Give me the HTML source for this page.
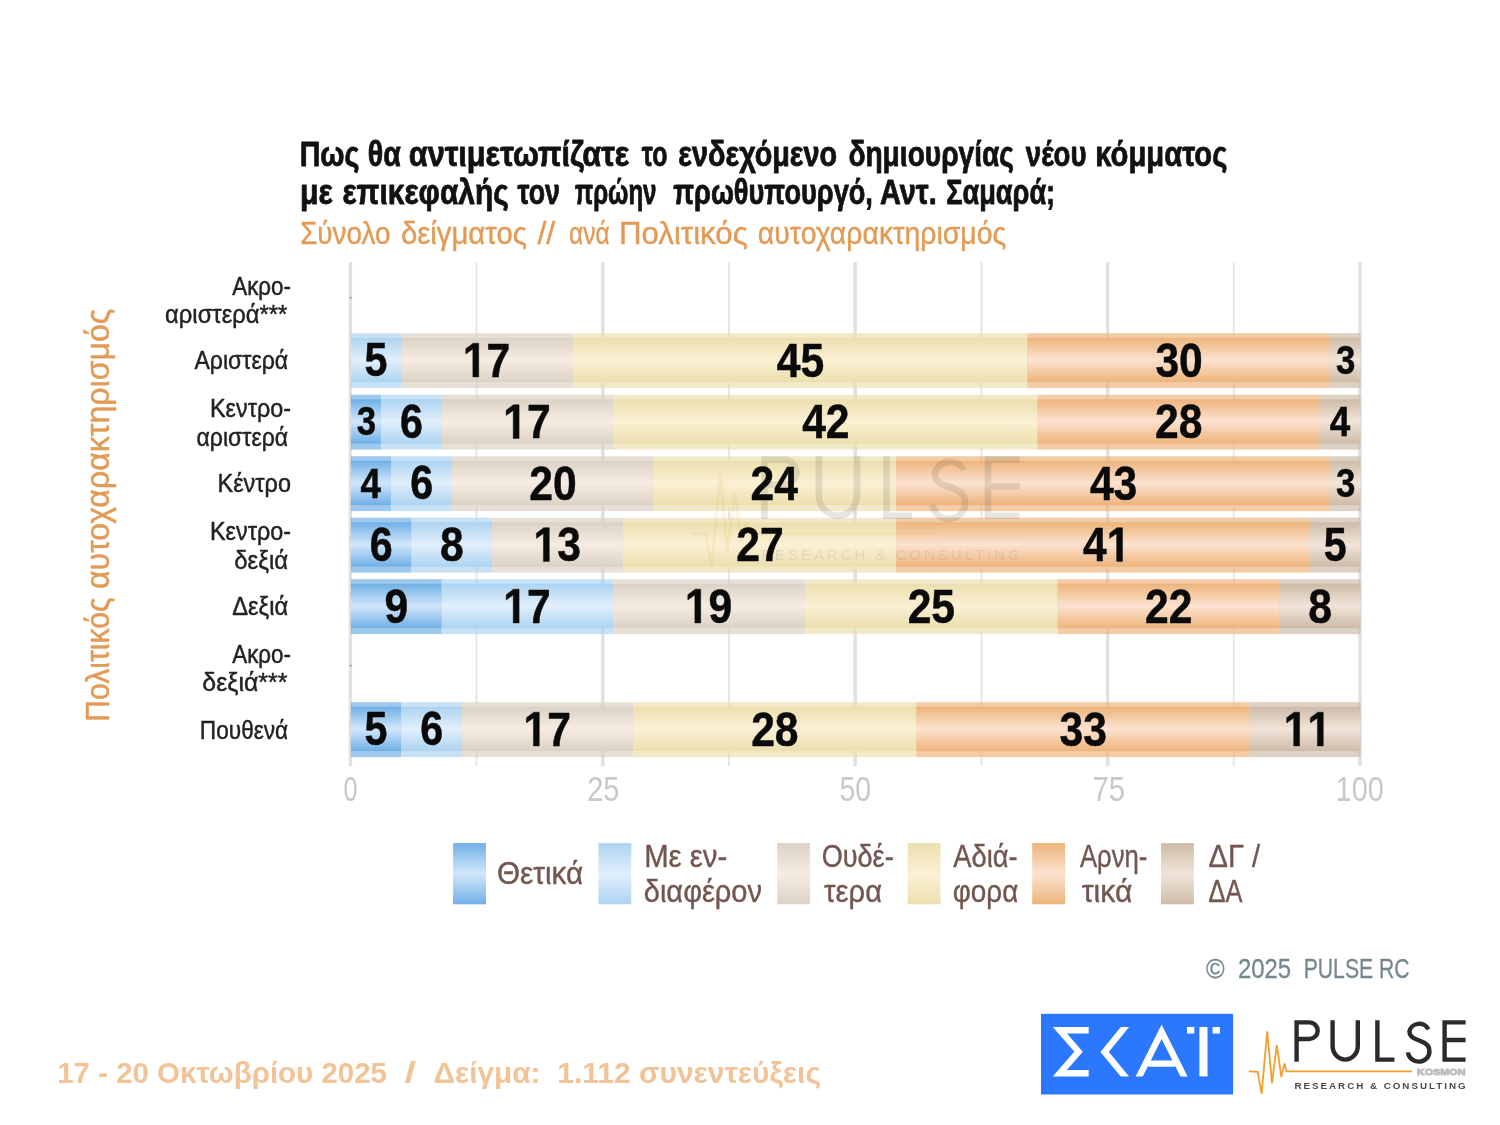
<!DOCTYPE html>
<html><head><meta charset="utf-8"><title>chart</title>
<style>
html,body{margin:0;padding:0;background:#fff;}
body{width:1500px;height:1125px;overflow:hidden;}
svg{display:block;font-family:"Liberation Sans",sans-serif;will-change:transform;filter:blur(0.45px);}
</style></head><body>
<svg width="1500" height="1125" viewBox="0 0 1500 1125">
<rect width="1500" height="1125" fill="#ffffff"/>
<defs>
<linearGradient id="g_pos" x1="0" y1="0" x2="0" y2="1"><stop offset="0" stop-color="#70b0e6"/><stop offset="0.5" stop-color="#d2e6fb"/><stop offset="1" stop-color="#70b0e6"/></linearGradient>
<linearGradient id="g_int" x1="0" y1="0" x2="0" y2="1"><stop offset="0" stop-color="#acd3f1"/><stop offset="0.5" stop-color="#e2effc"/><stop offset="1" stop-color="#acd3f1"/></linearGradient>
<linearGradient id="g_neu" x1="0" y1="0" x2="0" y2="1"><stop offset="0" stop-color="#dbd1c4"/><stop offset="0.5" stop-color="#f6ece2"/><stop offset="1" stop-color="#dbd1c4"/></linearGradient>
<linearGradient id="g_ind" x1="0" y1="0" x2="0" y2="1"><stop offset="0" stop-color="#ecdfae"/><stop offset="0.5" stop-color="#fbf0d5"/><stop offset="1" stop-color="#ecdfae"/></linearGradient>
<linearGradient id="g_neg" x1="0" y1="0" x2="0" y2="1"><stop offset="0" stop-color="#edb47b"/><stop offset="0.5" stop-color="#fce2d0"/><stop offset="1" stop-color="#edb47b"/></linearGradient>
<linearGradient id="g_dk" x1="0" y1="0" x2="0" y2="1"><stop offset="0" stop-color="#cdbba8"/><stop offset="0.5" stop-color="#f1e4d8"/><stop offset="1" stop-color="#cdbba8"/></linearGradient>
</defs>
<rect x="348.70" y="262.0" width="3.4" height="504.0" fill="#e0e0e0"/>
<rect x="475.60" y="262.0" width="2.0" height="504.0" fill="#e6e6e6"/>
<rect x="601.10" y="262.0" width="3.4" height="504.0" fill="#e0e0e0"/>
<rect x="728.00" y="262.0" width="2.0" height="504.0" fill="#e6e6e6"/>
<rect x="853.50" y="262.0" width="3.4" height="504.0" fill="#e0e0e0"/>
<rect x="980.40" y="262.0" width="2.0" height="504.0" fill="#e6e6e6"/>
<rect x="1105.90" y="262.0" width="3.4" height="504.0" fill="#e0e0e0"/>
<rect x="1232.80" y="262.0" width="2.0" height="504.0" fill="#e6e6e6"/>
<rect x="1358.30" y="262.0" width="3.4" height="504.0" fill="#e0e0e0"/>
<rect x="350.90" y="333.20" width="50.48" height="54.9" fill="#acd3f1" fill-opacity="0.68"/>
<rect x="350.90" y="337.80" width="50.48" height="44.30" fill="url(#g_int)"/>
<rect x="401.38" y="333.20" width="171.63" height="54.9" fill="#dbd1c4" fill-opacity="0.68"/>
<rect x="401.38" y="337.80" width="171.63" height="44.30" fill="url(#g_neu)"/>
<rect x="573.01" y="333.20" width="454.32" height="54.9" fill="#ecdfae" fill-opacity="0.68"/>
<rect x="573.01" y="337.80" width="454.32" height="44.30" fill="url(#g_ind)"/>
<rect x="1027.33" y="333.20" width="302.88" height="54.9" fill="#edb47b" fill-opacity="0.68"/>
<rect x="1027.33" y="337.80" width="302.88" height="44.30" fill="url(#g_neg)"/>
<rect x="1330.21" y="333.20" width="30.29" height="54.9" fill="#cdbba8" fill-opacity="0.68"/>
<rect x="1330.21" y="337.80" width="30.29" height="44.30" fill="url(#g_dk)"/>
<rect x="350.90" y="394.70" width="30.29" height="54.9" fill="#70b0e6" fill-opacity="0.68"/>
<rect x="350.90" y="399.30" width="30.29" height="44.30" fill="url(#g_pos)"/>
<rect x="381.19" y="394.70" width="60.58" height="54.9" fill="#acd3f1" fill-opacity="0.68"/>
<rect x="381.19" y="399.30" width="60.58" height="44.30" fill="url(#g_int)"/>
<rect x="441.76" y="394.70" width="171.63" height="54.9" fill="#dbd1c4" fill-opacity="0.68"/>
<rect x="441.76" y="399.30" width="171.63" height="44.30" fill="url(#g_neu)"/>
<rect x="613.40" y="394.70" width="424.03" height="54.9" fill="#ecdfae" fill-opacity="0.68"/>
<rect x="613.40" y="399.30" width="424.03" height="44.30" fill="url(#g_ind)"/>
<rect x="1037.43" y="394.70" width="282.69" height="54.9" fill="#edb47b" fill-opacity="0.68"/>
<rect x="1037.43" y="399.30" width="282.69" height="44.30" fill="url(#g_neg)"/>
<rect x="1320.12" y="394.70" width="40.38" height="54.9" fill="#cdbba8" fill-opacity="0.68"/>
<rect x="1320.12" y="399.30" width="40.38" height="44.30" fill="url(#g_dk)"/>
<rect x="350.90" y="456.20" width="40.38" height="54.9" fill="#70b0e6" fill-opacity="0.68"/>
<rect x="350.90" y="460.80" width="40.38" height="44.30" fill="url(#g_pos)"/>
<rect x="391.28" y="456.20" width="60.58" height="54.9" fill="#acd3f1" fill-opacity="0.68"/>
<rect x="391.28" y="460.80" width="60.58" height="44.30" fill="url(#g_int)"/>
<rect x="451.86" y="456.20" width="201.92" height="54.9" fill="#dbd1c4" fill-opacity="0.68"/>
<rect x="451.86" y="460.80" width="201.92" height="44.30" fill="url(#g_neu)"/>
<rect x="653.78" y="456.20" width="242.30" height="54.9" fill="#ecdfae" fill-opacity="0.68"/>
<rect x="653.78" y="460.80" width="242.30" height="44.30" fill="url(#g_ind)"/>
<rect x="896.08" y="456.20" width="434.13" height="54.9" fill="#edb47b" fill-opacity="0.68"/>
<rect x="896.08" y="460.80" width="434.13" height="44.30" fill="url(#g_neg)"/>
<rect x="1330.21" y="456.20" width="30.29" height="54.9" fill="#cdbba8" fill-opacity="0.68"/>
<rect x="1330.21" y="460.80" width="30.29" height="44.30" fill="url(#g_dk)"/>
<rect x="350.90" y="517.70" width="60.58" height="54.9" fill="#70b0e6" fill-opacity="0.68"/>
<rect x="350.90" y="522.30" width="60.58" height="44.30" fill="url(#g_pos)"/>
<rect x="411.48" y="517.70" width="80.77" height="54.9" fill="#acd3f1" fill-opacity="0.68"/>
<rect x="411.48" y="522.30" width="80.77" height="44.30" fill="url(#g_int)"/>
<rect x="492.24" y="517.70" width="131.25" height="54.9" fill="#dbd1c4" fill-opacity="0.68"/>
<rect x="492.24" y="522.30" width="131.25" height="44.30" fill="url(#g_neu)"/>
<rect x="623.49" y="517.70" width="272.59" height="54.9" fill="#ecdfae" fill-opacity="0.68"/>
<rect x="623.49" y="522.30" width="272.59" height="44.30" fill="url(#g_ind)"/>
<rect x="896.08" y="517.70" width="413.94" height="54.9" fill="#edb47b" fill-opacity="0.68"/>
<rect x="896.08" y="522.30" width="413.94" height="44.30" fill="url(#g_neg)"/>
<rect x="1310.02" y="517.70" width="50.48" height="54.9" fill="#cdbba8" fill-opacity="0.68"/>
<rect x="1310.02" y="522.30" width="50.48" height="44.30" fill="url(#g_dk)"/>
<rect x="350.90" y="579.20" width="90.86" height="54.9" fill="#70b0e6" fill-opacity="0.68"/>
<rect x="350.90" y="583.80" width="90.86" height="44.30" fill="url(#g_pos)"/>
<rect x="441.76" y="579.20" width="171.63" height="54.9" fill="#acd3f1" fill-opacity="0.68"/>
<rect x="441.76" y="583.80" width="171.63" height="44.30" fill="url(#g_int)"/>
<rect x="613.40" y="579.20" width="191.82" height="54.9" fill="#dbd1c4" fill-opacity="0.68"/>
<rect x="613.40" y="583.80" width="191.82" height="44.30" fill="url(#g_neu)"/>
<rect x="805.22" y="579.20" width="252.40" height="54.9" fill="#ecdfae" fill-opacity="0.68"/>
<rect x="805.22" y="583.80" width="252.40" height="44.30" fill="url(#g_ind)"/>
<rect x="1057.62" y="579.20" width="222.11" height="54.9" fill="#edb47b" fill-opacity="0.68"/>
<rect x="1057.62" y="583.80" width="222.11" height="44.30" fill="url(#g_neg)"/>
<rect x="1279.73" y="579.20" width="80.77" height="54.9" fill="#cdbba8" fill-opacity="0.68"/>
<rect x="1279.73" y="583.80" width="80.77" height="44.30" fill="url(#g_dk)"/>
<rect x="350.90" y="702.20" width="50.48" height="54.9" fill="#70b0e6" fill-opacity="0.68"/>
<rect x="350.90" y="706.80" width="50.48" height="44.30" fill="url(#g_pos)"/>
<rect x="401.38" y="702.20" width="60.58" height="54.9" fill="#acd3f1" fill-opacity="0.68"/>
<rect x="401.38" y="706.80" width="60.58" height="44.30" fill="url(#g_int)"/>
<rect x="461.96" y="702.20" width="171.63" height="54.9" fill="#dbd1c4" fill-opacity="0.68"/>
<rect x="461.96" y="706.80" width="171.63" height="44.30" fill="url(#g_neu)"/>
<rect x="633.59" y="702.20" width="282.69" height="54.9" fill="#ecdfae" fill-opacity="0.68"/>
<rect x="633.59" y="706.80" width="282.69" height="44.30" fill="url(#g_ind)"/>
<rect x="916.28" y="702.20" width="333.17" height="54.9" fill="#edb47b" fill-opacity="0.68"/>
<rect x="916.28" y="706.80" width="333.17" height="44.30" fill="url(#g_neg)"/>
<rect x="1249.44" y="702.20" width="111.06" height="54.9" fill="#cdbba8" fill-opacity="0.68"/>
<rect x="1249.44" y="706.80" width="111.06" height="44.30" fill="url(#g_dk)"/>
<rect x="453.1" y="843.1" width="32.9" height="61.2" fill="url(#g_pos)"/>
<rect x="598.4" y="843.1" width="32.9" height="61.2" fill="url(#g_int)"/>
<rect x="777.2" y="843.1" width="32.9" height="61.2" fill="url(#g_neu)"/>
<rect x="907.6" y="843.1" width="32.9" height="61.2" fill="url(#g_ind)"/>
<rect x="1032.2" y="843.1" width="32.9" height="61.2" fill="url(#g_neg)"/>
<rect x="1161.0" y="843.1" width="32.9" height="61.2" fill="url(#g_dk)"/>
<!-- empty-row ticks -->
<rect x="349.9" y="297.1" width="1.4" height="1.2" fill="#555"/>
<rect x="349.9" y="665.0" width="1.4" height="1.2" fill="#555"/>
<!-- SKAI logo -->
<g id="skai">
<rect x="1041" y="1013.8" width="192.1" height="80.7" fill="#2b78ff"/>
<clipPath id="skc"><rect x="1041" y="1020" width="192" height="56.5"/></clipPath>
<clipPath id="skc2"><rect x="1041" y="1027" width="192" height="49.5"/></clipPath>
<g fill="none" stroke="#fff" stroke-width="6.4" stroke-linejoin="miter" stroke-miterlimit="6">
<path d="M1088.7 1030.2 H1059.8 L1078.6 1051.7 L1059.8 1073.2 H1088.7"/>
<path d="M1129.6 1021.3 L1104.6 1051.9 L1129.6 1082.2" clip-path="url(#skc2)"/>
<path d="M1137 1080.9 L1161.6 1031.7 L1186.2 1080.9 M1148.5 1063.6 H1174.8" clip-path="url(#skc)"/>
</g>
<rect x="1199.4" y="1027" width="8.1" height="49.4" fill="#fff"/>
<rect x="1187" y="1027" width="7.3" height="6.6" fill="#fff"/>
<rect x="1212.6" y="1027" width="7.3" height="6.6" fill="#fff"/>
</g>
<!-- PULSE logo -->
<defs>
<g id="pulselogo">
<path d="M1248.8 1071.4 L1257.6 1071.9 L1261.6 1093.8 L1267.2 1031.4 L1272 1083.4 L1276.8 1045 L1281.3 1077 L1284.5 1063.4 L1286.4 1071.4 H1412" fill="none" stroke="#f0a030" stroke-width="1.8" stroke-linejoin="miter"/>
<g fill="none" stroke="#2b2b2b" stroke-width="4.4">
<path d="M1296.6 1061.8 V1022.4 H1309.4 A8.3 8.3 0 0 1 1309.4 1039 H1296.6"/>
<path d="M1332.6 1020.2 V1046 A12.6 13.6 0 0 0 1357.8 1046 V1020.2"/>
<path d="M1377.4 1020.2 V1059.6 H1394.4"/>
<path d="M1428.4 1029.4 A10 9.4 0 0 0 1409.4 1031.6 C1409.4 1038.6 1417 1039.6 1420 1040.8 C1426 1042.8 1429.4 1045.6 1429.4 1050.6 A10.6 10 0 0 1 1408 1052.4"/>
<path d="M1465.6 1022.4 H1444.6 V1059.6 H1465.6 M1444.6 1040 H1465.6"/>
</g>
</g>
</defs>
<use href="#pulselogo"/>
<text x="1416.8" y="1075.4" font-size="9.3" font-weight="bold" fill="#bdbdbd" stroke="#bdbdbd" stroke-width="0.9" textLength="48.8" lengthAdjust="spacingAndGlyphs">KOSMON</text>
<text x="1294.4" y="1089" font-size="9.8" font-weight="bold" fill="#4a4a4a" textLength="171.2" lengthAdjust="spacing">RESEARCH &amp; CONSULTING</text>
<use href="#pulselogo" transform="translate(761.2 456.3) scale(1.51) translate(-1294.4 -1020.2)" opacity="0.115"/>
<g transform="translate(761.2 456.3) scale(1.51) translate(-1294.4 -1020.2)" opacity="0.1">
<text x="1416.8" y="1075.4" font-size="9.3" font-weight="bold" fill="#bdbdbd" textLength="48.8" lengthAdjust="spacingAndGlyphs">KOSMON</text>
<text x="1294.4" y="1089" font-size="9.8" fill="#4a4a4a" textLength="171.2" lengthAdjust="spacing">RESEARCH &amp; CONSULTING</text>
</g>

<text xml:space="preserve" style="white-space:pre" transform="translate(299.63,166.30) scale(0.8365,1)" font-size="34.3" fill="#111" font-weight="bold" stroke="#111" stroke-width="0.8" stroke-linejoin="round">Πως</text>
<text xml:space="preserve" style="white-space:pre" transform="translate(367.87,166.30) scale(0.8329,1)" font-size="34.3" fill="#111" font-weight="bold" stroke="#111" stroke-width="0.8" stroke-linejoin="round">θα</text>
<text xml:space="preserve" style="white-space:pre" transform="translate(408.81,166.30) scale(0.8935,1)" font-size="34.3" fill="#111" font-weight="bold" stroke="#111" stroke-width="0.8" stroke-linejoin="round">αντιμετωπίζατε</text>
<text xml:space="preserve" style="white-space:pre" transform="translate(641.70,166.30) scale(0.7278,1)" font-size="34.3" fill="#111" font-weight="bold" stroke="#111" stroke-width="0.8" stroke-linejoin="round">το</text>
<text xml:space="preserve" style="white-space:pre" transform="translate(678.36,166.30) scale(0.8391,1)" font-size="34.3" fill="#111" font-weight="bold" stroke="#111" stroke-width="0.8" stroke-linejoin="round">ενδεχόμενο</text>
<text xml:space="preserve" style="white-space:pre" transform="translate(848.38,166.30) scale(0.8202,1)" font-size="34.3" fill="#111" font-weight="bold" stroke="#111" stroke-width="0.8" stroke-linejoin="round">δημιουργίας</text>
<text xml:space="preserve" style="white-space:pre" transform="translate(1025.80,166.30) scale(0.8054,1)" font-size="34.3" fill="#111" font-weight="bold" stroke="#111" stroke-width="0.8" stroke-linejoin="round">νέου</text>
<text xml:space="preserve" style="white-space:pre" transform="translate(1095.30,166.30) scale(0.8517,1)" font-size="34.3" fill="#111" font-weight="bold" stroke="#111" stroke-width="0.8" stroke-linejoin="round">κόμματος</text>
<text xml:space="preserve" style="white-space:pre" transform="translate(299.94,203.70) scale(0.8804,1)" font-size="34.3" fill="#111" font-weight="bold" stroke="#111" stroke-width="0.8" stroke-linejoin="round">με</text>
<text xml:space="preserve" style="white-space:pre" transform="translate(342.43,203.70) scale(0.8709,1)" font-size="34.3" fill="#111" font-weight="bold" stroke="#111" stroke-width="0.8" stroke-linejoin="round">επικεφαλής</text>
<text xml:space="preserve" style="white-space:pre" transform="translate(517.50,203.70) scale(0.7823,1)" font-size="34.3" fill="#111" font-weight="bold" stroke="#111" stroke-width="0.8" stroke-linejoin="round">τον</text>
<text xml:space="preserve" style="white-space:pre" transform="translate(574.70,203.70) scale(0.7028,1)" font-size="34.3" fill="#111" font-weight="bold" stroke="#111" stroke-width="0.8" stroke-linejoin="round">πρώην</text>
<text xml:space="preserve" style="white-space:pre" transform="translate(673.30,203.70) scale(0.7923,1)" font-size="34.3" fill="#111" font-weight="bold" stroke="#111" stroke-width="0.8" stroke-linejoin="round">πρωθυπουργό,</text>
<text xml:space="preserve" style="white-space:pre" transform="translate(880.00,203.70) scale(0.8425,1)" font-size="34.3" fill="#111" font-weight="bold" stroke="#111" stroke-width="0.8" stroke-linejoin="round">Αντ.</text>
<text xml:space="preserve" style="white-space:pre" transform="translate(946.21,203.70) scale(0.7931,1)" font-size="34.3" fill="#111" font-weight="bold" stroke="#111" stroke-width="0.8" stroke-linejoin="round">Σαμαρά;</text>
<text xml:space="preserve" style="white-space:pre" transform="translate(300.13,244.30) scale(0.8707,1)" font-size="32.0" fill="#e39a55" stroke="#e39a55" stroke-width="0.4" stroke-linejoin="round">Σύνολο</text>
<text xml:space="preserve" style="white-space:pre" transform="translate(400.88,244.30) scale(0.9169,1)" font-size="32.0" fill="#e39a55" stroke="#e39a55" stroke-width="0.4" stroke-linejoin="round">δείγματος</text>
<text xml:space="preserve" style="white-space:pre" transform="translate(537.40,244.30) scale(1.0061,1)" font-size="32.0" fill="#e39a55" stroke="#e39a55" stroke-width="0.4" stroke-linejoin="round">//</text>
<text xml:space="preserve" style="white-space:pre" transform="translate(569.03,244.30) scale(0.7689,1)" font-size="32.0" fill="#e39a55" stroke="#e39a55" stroke-width="0.4" stroke-linejoin="round">ανά</text>
<text xml:space="preserve" style="white-space:pre" transform="translate(618.95,244.30) scale(0.9764,1)" font-size="32.0" fill="#e39a55" stroke="#e39a55" stroke-width="0.4" stroke-linejoin="round">Πολιτικός</text>
<text xml:space="preserve" style="white-space:pre" transform="translate(757.81,244.30) scale(0.8892,1)" font-size="32.0" fill="#e39a55" stroke="#e39a55" stroke-width="0.4" stroke-linejoin="round">αυτοχαρακτηρισμός</text>
<text xml:space="preserve" style="white-space:pre" transform="translate(232.20,294.60) scale(0.8611,1)" font-size="26.0" fill="#222" stroke="#222" stroke-width="0.45" stroke-linejoin="round">Ακρο-</text>
<text xml:space="preserve" style="white-space:pre" transform="translate(165.08,322.80) scale(0.9150,1)" font-size="26.0" fill="#222" stroke="#222" stroke-width="0.45" stroke-linejoin="round">αριστερά***</text>
<text xml:space="preserve" style="white-space:pre" transform="translate(194.40,369.00) scale(0.8882,1)" font-size="26.0" fill="#222" stroke="#222" stroke-width="0.45" stroke-linejoin="round">Αριστερά</text>
<text xml:space="preserve" style="white-space:pre" transform="translate(210.00,416.80) scale(0.8988,1)" font-size="26.0" fill="#222" stroke="#222" stroke-width="0.45" stroke-linejoin="round">Κεντρο-</text>
<text xml:space="preserve" style="white-space:pre" transform="translate(196.41,445.50) scale(0.8886,1)" font-size="26.0" fill="#222" stroke="#222" stroke-width="0.45" stroke-linejoin="round">αριστερά</text>
<text xml:space="preserve" style="white-space:pre" transform="translate(217.49,491.70) scale(0.9026,1)" font-size="26.0" fill="#222" stroke="#222" stroke-width="0.45" stroke-linejoin="round">Κέντρο</text>
<text xml:space="preserve" style="white-space:pre" transform="translate(210.00,540.00) scale(0.8988,1)" font-size="26.0" fill="#222" stroke="#222" stroke-width="0.45" stroke-linejoin="round">Κεντρο-</text>
<text xml:space="preserve" style="white-space:pre" transform="translate(234.18,568.50) scale(0.9238,1)" font-size="26.0" fill="#222" stroke="#222" stroke-width="0.45" stroke-linejoin="round">δεξιά</text>
<text xml:space="preserve" style="white-space:pre" transform="translate(232.20,615.20) scale(0.9124,1)" font-size="26.0" fill="#222" stroke="#222" stroke-width="0.45" stroke-linejoin="round">Δεξιά</text>
<text xml:space="preserve" style="white-space:pre" transform="translate(232.20,662.90) scale(0.8611,1)" font-size="26.0" fill="#222" stroke="#222" stroke-width="0.45" stroke-linejoin="round">Ακρο-</text>
<text xml:space="preserve" style="white-space:pre" transform="translate(202.34,691.20) scale(0.9573,1)" font-size="26.0" fill="#222" stroke="#222" stroke-width="0.45" stroke-linejoin="round">δεξιά***</text>
<text xml:space="preserve" style="white-space:pre" transform="translate(199.86,738.50) scale(0.8703,1)" font-size="26.0" fill="#222" stroke="#222" stroke-width="0.45" stroke-linejoin="round">Πουθενά</text>
<text xml:space="preserve" style="white-space:pre" transform="translate(108.80,721.86) rotate(-90) scale(0.9286,1)" font-size="32.5" fill="#e39a55" stroke="#e39a55" stroke-width="0.4" stroke-linejoin="round">Πολιτικός</text>
<text xml:space="preserve" style="white-space:pre" transform="translate(108.80,588.99) rotate(-90) scale(0.9882,1)" font-size="32.5" fill="#e39a55" stroke="#e39a55" stroke-width="0.4" stroke-linejoin="round">αυτοχαρακτηρισμός</text>
<text xml:space="preserve" style="white-space:pre" transform="translate(343.47,800.50) scale(0.7294,1)" font-size="34.6" fill="#c8c8c8">0</text>
<text xml:space="preserve" style="white-space:pre" transform="translate(587.16,800.50) scale(0.8391,1)" font-size="34.6" fill="#c8c8c8">25</text>
<text xml:space="preserve" style="white-space:pre" transform="translate(839.48,800.50) scale(0.8225,1)" font-size="34.6" fill="#c8c8c8">50</text>
<text xml:space="preserve" style="white-space:pre" transform="translate(1092.45,800.50) scale(0.8473,1)" font-size="34.6" fill="#c8c8c8">75</text>
<text xml:space="preserve" style="white-space:pre" transform="translate(1335.53,800.50) scale(0.8373,1)" font-size="34.6" fill="#c8c8c8">100</text>
<text xml:space="preserve" style="white-space:pre" transform="translate(496.97,884.40) scale(0.9336,1)" font-size="31.8" fill="#72564f" stroke="#72564f" stroke-width="0.4" stroke-linejoin="round">Θετικά</text>
<text xml:space="preserve" style="white-space:pre" transform="translate(644.15,867.10) scale(0.9227,1)" font-size="31.8" fill="#72564f" stroke="#72564f" stroke-width="0.4" stroke-linejoin="round">Με εν-</text>
<text xml:space="preserve" style="white-space:pre" transform="translate(643.79,902.00) scale(0.9122,1)" font-size="31.8" fill="#72564f" stroke="#72564f" stroke-width="0.4" stroke-linejoin="round">διαφέρον</text>
<text xml:space="preserve" style="white-space:pre" transform="translate(821.65,867.10) scale(0.8518,1)" font-size="31.8" fill="#72564f" stroke="#72564f" stroke-width="0.4" stroke-linejoin="round">Ουδέ-</text>
<text xml:space="preserve" style="white-space:pre" transform="translate(824.10,902.00) scale(0.9169,1)" font-size="31.8" fill="#72564f" stroke="#72564f" stroke-width="0.4" stroke-linejoin="round">τερα</text>
<text xml:space="preserve" style="white-space:pre" transform="translate(953.20,867.10) scale(0.8607,1)" font-size="31.8" fill="#72564f" stroke="#72564f" stroke-width="0.4" stroke-linejoin="round">Αδιά-</text>
<text xml:space="preserve" style="white-space:pre" transform="translate(952.82,902.00) scale(0.8761,1)" font-size="31.8" fill="#72564f" stroke="#72564f" stroke-width="0.4" stroke-linejoin="round">φορα</text>
<text xml:space="preserve" style="white-space:pre" transform="translate(1079.90,867.10) scale(0.8084,1)" font-size="31.8" fill="#72564f" stroke="#72564f" stroke-width="0.4" stroke-linejoin="round">Αρνη-</text>
<text xml:space="preserve" style="white-space:pre" transform="translate(1081.70,902.00) scale(0.9485,1)" font-size="31.8" fill="#72564f" stroke="#72564f" stroke-width="0.4" stroke-linejoin="round">τικά</text>
<text xml:space="preserve" style="white-space:pre" transform="translate(1208.60,867.10) scale(0.9136,1)" font-size="31.8" fill="#72564f" stroke="#72564f" stroke-width="0.4" stroke-linejoin="round">ΔΓ /</text>
<text xml:space="preserve" style="white-space:pre" transform="translate(1208.60,902.00) scale(0.8002,1)" font-size="31.8" fill="#72564f" stroke="#72564f" stroke-width="0.4" stroke-linejoin="round">ΔΑ</text>
<text xml:space="preserve" style="white-space:pre" transform="translate(1206.00,978.00) scale(0.9200,1)" font-size="27.5" fill="#74878f" stroke="#74878f" stroke-width="0.3" stroke-linejoin="round">©</text>
<text xml:space="preserve" style="white-space:pre" transform="translate(1237.96,977.50) scale(0.8400,1)" font-size="28.5" fill="#74878f" stroke="#74878f" stroke-width="0.3" stroke-linejoin="round">2025</text>
<text xml:space="preserve" style="white-space:pre" transform="translate(1303.71,977.50) scale(0.7431,1)" font-size="28.5" fill="#74878f" stroke="#74878f" stroke-width="0.3" stroke-linejoin="round">PULSE RC</text>
<text xml:space="preserve" style="white-space:pre" transform="translate(57.17,1083.40) scale(1.0310,1)" font-size="28.6" fill="#f2c396" font-weight="bold">17 - 20 Οκτωβρίου 2025</text>
<text xml:space="preserve" style="white-space:pre" transform="translate(404.40,1083.40) scale(1.4500,1)" font-size="28.6" fill="#f2c396" font-weight="bold">/</text>
<text xml:space="preserve" style="white-space:pre" transform="translate(433.56,1083.40) scale(1.0430,1)" font-size="28.6" fill="#f2c396" font-weight="bold">Δείγμα:</text>
<text xml:space="preserve" style="white-space:pre" transform="translate(557.35,1083.40) scale(1.0480,1)" font-size="28.6" fill="#f2c396" font-weight="bold">1.112 συνεντεύξεις</text>
<g transform="translate(364.62,376.32) scale(0.87,1)" font-size="47.3" font-weight="bold" fill="#0a0a0a" stroke="#0a0a0a" stroke-width="0.5" stroke-linejoin="round"><text x="0.00" y="0">5</text></g>
<g transform="translate(462.91,376.91) scale(0.87,1)" font-size="49.0" font-weight="bold" fill="#0a0a0a" stroke="#0a0a0a" stroke-width="0.5" stroke-linejoin="round"><polygon points="11.44,0.00 11.44,-27.99 3.35,-22.94 3.35,-28.23 11.80,-33.71 18.16,-33.71 18.16,0.00"/><text x="27.25" y="0">7</text></g>
<g transform="translate(776.70,376.91) scale(0.87,1)" font-size="49.0" font-weight="bold" fill="#0a0a0a" stroke="#0a0a0a" stroke-width="0.5" stroke-linejoin="round"><text x="0.00" y="0">4</text><text x="27.25" y="0">5</text></g>
<g transform="translate(1155.41,376.91) scale(0.87,1)" font-size="49.0" font-weight="bold" fill="#0a0a0a" stroke="#0a0a0a" stroke-width="0.5" stroke-linejoin="round"><text x="0.00" y="0">3</text><text x="27.25" y="0">0</text></g>
<g transform="translate(1335.96,373.81) scale(0.87,1)" font-size="40.0" font-weight="bold" fill="#0a0a0a" stroke="#0a0a0a" stroke-width="0.5" stroke-linejoin="round"><text x="0.00" y="0">3</text></g>
<g transform="translate(356.65,435.31) scale(0.87,1)" font-size="40.0" font-weight="bold" fill="#0a0a0a" stroke="#0a0a0a" stroke-width="0.5" stroke-linejoin="round"><text x="0.00" y="0">3</text></g>
<g transform="translate(400.06,437.82) scale(0.87,1)" font-size="47.3" font-weight="bold" fill="#0a0a0a" stroke="#0a0a0a" stroke-width="0.5" stroke-linejoin="round"><text x="0.00" y="0">6</text></g>
<g transform="translate(503.29,438.41) scale(0.87,1)" font-size="49.0" font-weight="bold" fill="#0a0a0a" stroke="#0a0a0a" stroke-width="0.5" stroke-linejoin="round"><polygon points="11.44,0.00 11.44,-27.99 3.35,-22.94 3.35,-28.23 11.80,-33.71 18.16,-33.71 18.16,0.00"/><text x="27.25" y="0">7</text></g>
<g transform="translate(802.15,438.41) scale(0.87,1)" font-size="49.0" font-weight="bold" fill="#0a0a0a" stroke="#0a0a0a" stroke-width="0.5" stroke-linejoin="round"><text x="0.00" y="0">4</text><text x="27.25" y="0">2</text></g>
<g transform="translate(1154.98,438.41) scale(0.87,1)" font-size="49.0" font-weight="bold" fill="#0a0a0a" stroke="#0a0a0a" stroke-width="0.5" stroke-linejoin="round"><text x="0.00" y="0">2</text><text x="27.25" y="0">8</text></g>
<g transform="translate(1329.82,436.10) scale(0.87,1)" font-size="42.3" font-weight="bold" fill="#0a0a0a" stroke="#0a0a0a" stroke-width="0.5" stroke-linejoin="round"><text x="0.00" y="0">4</text></g>
<g transform="translate(360.60,497.60) scale(0.87,1)" font-size="42.3" font-weight="bold" fill="#0a0a0a" stroke="#0a0a0a" stroke-width="0.5" stroke-linejoin="round"><text x="0.00" y="0">4</text></g>
<g transform="translate(410.15,499.32) scale(0.87,1)" font-size="47.3" font-weight="bold" fill="#0a0a0a" stroke="#0a0a0a" stroke-width="0.5" stroke-linejoin="round"><text x="0.00" y="0">6</text></g>
<g transform="translate(529.24,499.91) scale(0.87,1)" font-size="49.0" font-weight="bold" fill="#0a0a0a" stroke="#0a0a0a" stroke-width="0.5" stroke-linejoin="round"><text x="0.00" y="0">2</text><text x="27.25" y="0">0</text></g>
<g transform="translate(750.61,499.91) scale(0.87,1)" font-size="49.0" font-weight="bold" fill="#0a0a0a" stroke="#0a0a0a" stroke-width="0.5" stroke-linejoin="round"><text x="0.00" y="0">2</text><text x="27.25" y="0">4</text></g>
<g transform="translate(1089.89,499.91) scale(0.87,1)" font-size="49.0" font-weight="bold" fill="#0a0a0a" stroke="#0a0a0a" stroke-width="0.5" stroke-linejoin="round"><text x="0.00" y="0">4</text><text x="27.25" y="0">3</text></g>
<g transform="translate(1335.96,496.81) scale(0.87,1)" font-size="40.0" font-weight="bold" fill="#0a0a0a" stroke="#0a0a0a" stroke-width="0.5" stroke-linejoin="round"><text x="0.00" y="0">3</text></g>
<g transform="translate(369.77,560.82) scale(0.87,1)" font-size="47.3" font-weight="bold" fill="#0a0a0a" stroke="#0a0a0a" stroke-width="0.5" stroke-linejoin="round"><text x="0.00" y="0">6</text></g>
<g transform="translate(439.92,561.41) scale(0.87,1)" font-size="49.0" font-weight="bold" fill="#0a0a0a" stroke="#0a0a0a" stroke-width="0.5" stroke-linejoin="round"><text x="0.00" y="0">8</text></g>
<g transform="translate(533.47,561.41) scale(0.87,1)" font-size="49.0" font-weight="bold" fill="#0a0a0a" stroke="#0a0a0a" stroke-width="0.5" stroke-linejoin="round"><polygon points="11.44,0.00 11.44,-27.99 3.35,-22.94 3.35,-28.23 11.80,-33.71 18.16,-33.71 18.16,0.00"/><text x="27.25" y="0">3</text></g>
<g transform="translate(736.32,561.41) scale(0.87,1)" font-size="49.0" font-weight="bold" fill="#0a0a0a" stroke="#0a0a0a" stroke-width="0.5" stroke-linejoin="round"><text x="0.00" y="0">2</text><text x="27.25" y="0">7</text></g>
<g transform="translate(1082.98,561.41) scale(0.87,1)" font-size="49.0" font-weight="bold" fill="#0a0a0a" stroke="#0a0a0a" stroke-width="0.5" stroke-linejoin="round"><text x="0.00" y="0">4</text><polygon points="38.69,0.00 38.69,-27.99 30.60,-22.94 30.60,-28.23 39.05,-33.71 45.41,-33.71 45.41,0.00"/></g>
<g transform="translate(1323.74,560.82) scale(0.87,1)" font-size="47.3" font-weight="bold" fill="#0a0a0a" stroke="#0a0a0a" stroke-width="0.5" stroke-linejoin="round"><text x="0.00" y="0">5</text></g>
<g transform="translate(384.61,622.91) scale(0.87,1)" font-size="49.0" font-weight="bold" fill="#0a0a0a" stroke="#0a0a0a" stroke-width="0.5" stroke-linejoin="round"><text x="0.00" y="0">9</text></g>
<g transform="translate(503.29,622.91) scale(0.87,1)" font-size="49.0" font-weight="bold" fill="#0a0a0a" stroke="#0a0a0a" stroke-width="0.5" stroke-linejoin="round"><polygon points="11.44,0.00 11.44,-27.99 3.35,-22.94 3.35,-28.23 11.80,-33.71 18.16,-33.71 18.16,0.00"/><text x="27.25" y="0">7</text></g>
<g transform="translate(684.91,622.91) scale(0.87,1)" font-size="49.0" font-weight="bold" fill="#0a0a0a" stroke="#0a0a0a" stroke-width="0.5" stroke-linejoin="round"><polygon points="11.44,0.00 11.44,-27.99 3.35,-22.94 3.35,-28.23 11.80,-33.71 18.16,-33.71 18.16,0.00"/><text x="27.25" y="0">9</text></g>
<g transform="translate(907.63,622.91) scale(0.87,1)" font-size="49.0" font-weight="bold" fill="#0a0a0a" stroke="#0a0a0a" stroke-width="0.5" stroke-linejoin="round"><text x="0.00" y="0">2</text><text x="27.25" y="0">5</text></g>
<g transform="translate(1145.10,622.91) scale(0.87,1)" font-size="49.0" font-weight="bold" fill="#0a0a0a" stroke="#0a0a0a" stroke-width="0.5" stroke-linejoin="round"><text x="0.00" y="0">2</text><text x="27.25" y="0">2</text></g>
<g transform="translate(1308.18,622.91) scale(0.87,1)" font-size="49.0" font-weight="bold" fill="#0a0a0a" stroke="#0a0a0a" stroke-width="0.5" stroke-linejoin="round"><text x="0.00" y="0">8</text></g>
<g transform="translate(364.62,745.32) scale(0.87,1)" font-size="47.3" font-weight="bold" fill="#0a0a0a" stroke="#0a0a0a" stroke-width="0.5" stroke-linejoin="round"><text x="0.00" y="0">5</text></g>
<g transform="translate(420.25,745.32) scale(0.87,1)" font-size="47.3" font-weight="bold" fill="#0a0a0a" stroke="#0a0a0a" stroke-width="0.5" stroke-linejoin="round"><text x="0.00" y="0">6</text></g>
<g transform="translate(523.48,745.91) scale(0.87,1)" font-size="49.0" font-weight="bold" fill="#0a0a0a" stroke="#0a0a0a" stroke-width="0.5" stroke-linejoin="round"><polygon points="11.44,0.00 11.44,-27.99 3.35,-22.94 3.35,-28.23 11.80,-33.71 18.16,-33.71 18.16,0.00"/><text x="27.25" y="0">7</text></g>
<g transform="translate(751.14,745.91) scale(0.87,1)" font-size="49.0" font-weight="bold" fill="#0a0a0a" stroke="#0a0a0a" stroke-width="0.5" stroke-linejoin="round"><text x="0.00" y="0">2</text><text x="27.25" y="0">8</text></g>
<g transform="translate(1059.50,745.91) scale(0.87,1)" font-size="49.0" font-weight="bold" fill="#0a0a0a" stroke="#0a0a0a" stroke-width="0.5" stroke-linejoin="round"><text x="0.00" y="0">3</text><text x="27.25" y="0">3</text></g>
<g transform="translate(1283.76,745.91) scale(0.87,1)" font-size="49.0" font-weight="bold" fill="#0a0a0a" stroke="#0a0a0a" stroke-width="0.5" stroke-linejoin="round"><polygon points="11.44,0.00 11.44,-27.99 3.35,-22.94 3.35,-28.23 11.80,-33.71 18.16,-33.71 18.16,0.00"/><polygon points="38.69,0.00 38.69,-27.99 30.60,-22.94 30.60,-28.23 39.05,-33.71 45.41,-33.71 45.41,0.00"/></g>
</svg>
</body></html>
